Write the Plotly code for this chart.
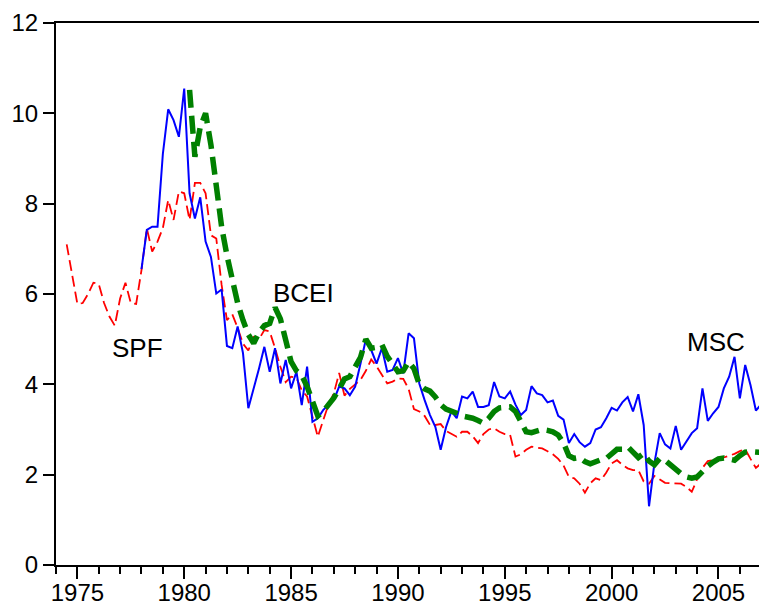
import plotly.graph_objects as go

# ---- data (quarterly) ----
spf_start = "1974Q3"
spf_values = [
    7.1, 6.45,
    5.78, 5.8, 6.0, 6.25,
    6.22, 5.8, 5.5, 5.3,
    5.9, 6.25, 5.8, 5.78,
    6.53, 7.45, 6.94, 7.16,
    7.46, 8.08, 7.64, 8.27,
    8.23, 7.64, 8.46, 8.46,
    8.23, 7.3, 7.23, 6.2,
    5.42, 5.55, 5.25, 4.9,
    4.75, 5.05, 5.0, 5.2,
    5.17, 4.8, 4.39, 4.05,
    4.17, 4.14, 3.87, 3.73,
    3.3, 2.84, 3.2, 3.55,
    3.8, 4.25, 3.75, 3.9,
    4.0, 4.1, 4.3, 4.55,
    4.4, 4.2, 4.02, 4.06,
    4.13, 4.12, 3.9, 3.45,
    3.4, 3.3, 3.1, 3.1,
    3.12, 2.97, 2.9, 2.84,
    2.95, 2.95, 2.85, 2.7,
    2.9, 3.0, 3.03, 2.95,
    2.9, 2.88, 2.4, 2.45,
    2.55, 2.62, 2.6, 2.58,
    2.52, 2.45, 2.35, 2.2,
    1.95, 1.92, 1.8, 1.6,
    1.81, 1.92, 1.88, 2.05,
    2.25, 2.32, 2.22, 2.14,
    2.1, 2.1, 1.85, 1.8,
    1.97, 1.9, 1.82, 1.81,
    1.81, 1.8, 1.73, 1.62,
    1.9, 2.15, 2.3, 2.32,
    2.35, 2.38, 2.42, 2.46,
    2.52, 2.56, 2.35, 2.15,
    2.25, 2.21,
]

msc_start = "1978Q1"
msc_values = [
    6.55, 7.42, 7.49, 7.49,
    9.1, 10.09, 9.85, 9.48,
    10.55, 8.23, 7.67, 8.14,
    7.16, 6.82, 6.01, 6.1,
    4.85, 4.8, 5.28, 4.69,
    3.47, 3.9, 4.35, 4.83,
    4.28, 4.8, 4.02, 4.54,
    3.91, 4.28, 3.54, 4.39,
    3.17, 3.25, 3.43, 3.55,
    3.65, 3.95, 3.91, 3.76,
    3.95, 4.46, 5.0, 4.76,
    4.46, 4.8, 4.28, 4.32,
    4.58, 4.24, 5.13, 5.02,
    4.02, 3.65, 3.32, 3.06,
    2.55, 3.05, 3.4, 3.25,
    3.73, 3.69, 3.84, 3.5,
    3.5, 3.54, 4.05, 3.73,
    3.69, 3.84, 3.55, 3.32,
    3.43, 3.96, 3.8, 3.76,
    3.6, 3.64, 3.3, 3.22,
    2.7, 2.9, 2.72, 2.62,
    2.7, 3.0, 3.05, 3.25,
    3.48, 3.42, 3.6, 3.72,
    3.4, 3.78, 3.1, 1.3,
    2.25, 2.92, 2.67, 2.58,
    3.08, 2.55, 2.73, 2.92,
    3.03, 3.91, 3.19, 3.36,
    3.5, 3.91, 4.17, 4.61,
    3.69, 4.43, 3.98, 3.42,
    3.56,
]

bcei_start = "1980Q2"
bcei_values = [
    10.52, 9.04, 9.7,
    10.0, 9.3, 8.3, 7.49,
    6.85, 6.25, 5.8, 5.42,
    5.1, 4.91, 5.15, 5.3,
    5.35, 5.7, 5.45, 4.98,
    4.5, 4.3, 4.2, 3.95,
    3.65, 3.3, 3.4, 3.55,
    3.7, 3.9, 4.12, 4.17,
    4.4, 4.6, 5.0, 4.8,
    4.82, 4.88, 4.62, 4.43,
    4.28, 4.3, 4.5, 4.35,
    4.0, 3.9, 3.85, 3.72,
    3.55, 3.45, 3.42, 3.36,
    3.3, 3.28, 3.25, 3.2,
    3.14, 3.25, 3.4, 3.48,
    3.5, 3.5, 3.4, 3.2,
    2.95, 2.93, 2.97, 3.0,
    2.98, 2.95, 2.88, 2.7,
    2.42, 2.36, 2.38, 2.29,
    2.24, 2.3, 2.33, 2.36,
    2.48, 2.56, 2.56, 2.62,
    2.5, 2.38, 2.47, 2.3,
    2.22, 2.36, 2.32, 2.21,
    2.12, 2.02, 1.95, 1.92,
    1.95, 2.08, 2.19, 2.28,
    2.35, 2.37, 2.36, 2.32,
    2.42, 2.5, 2.51, 2.51,
    2.49, 2.38,
]

year_ticks = [1975, 1980, 1985, 1990, 1995, 2000, 2005]
value_ticks = [0, 2, 4, 6, 8, 10, 12]


def quarter_axis(start, n):
    y, q = start.split("Q")
    t0 = int(y) + (int(q) - 1) / 4.0
    return [t0 + 0.25 * i for i in range(n)]


FONT = "Liberation Sans, Arial, sans-serif"

fig = go.Figure()
fig.add_trace(go.Scatter(
    x=quarter_axis(spf_start, len(spf_values)), y=spf_values, mode="lines",
    line=dict(color="#ff0000", width=1.8, dash="11px,5px"), name="SPF"))
fig.add_trace(go.Scatter(
    x=quarter_axis(msc_start, len(msc_values)), y=msc_values, mode="lines",
    line=dict(color="#0000ff", width=2), name="MSC"))
fig.add_trace(go.Scatter(
    x=quarter_axis(bcei_start, len(bcei_values)), y=bcei_values, mode="lines",
    line=dict(color="#008000", width=5.5, dash="18px,8px"), name="BCEI"))

for txt, ax, ay in [("SPF", 1977.8, 4.8), ("BCEI", 1985.58, 6.03), ("MSC", 2004.87, 4.94)]:
    fig.add_annotation(x=ax, y=ay, text=txt, showarrow=False,
                       xanchor="center", yanchor="middle",
                       font=dict(family=FONT, size=26, color="black"))

# the page body adds an 8px offset, margins compensate for it
fig.update_layout(
    width=767, height=610,
    margin=dict(l=48, r=8, t=15, b=53, pad=0, autoexpand=False),
    paper_bgcolor="white", plot_bgcolor="white",
    showlegend=False,
    font=dict(family=FONT, size=24, color="black"),
    xaxis=dict(
        range=[1974, 2007.27], tickmode="array", tickvals=year_ticks,
        ticktext=[str(v) for v in year_ticks], automargin=False,
        showgrid=False, zeroline=False,
        showline=True, linecolor="black", linewidth=2, mirror=True,
        ticks="outside", ticklen=12, tickwidth=1.5, tickcolor="black",
        ticklabelstandoff=-7,
        minor=dict(tickmode="linear", tick0=1974, dtick=1, ticks="outside",
                   ticklen=7, tickwidth=1.5, tickcolor="black", showgrid=False),
        tickfont=dict(family=FONT, size=24, color="black"),
    ),
    yaxis=dict(
        range=[0, 12], tickmode="array", tickvals=value_ticks,
        ticktext=[str(v) for v in value_ticks], automargin=False,
        showgrid=False, zeroline=False,
        showline=True, linecolor="black", linewidth=2,
        ticks="outside", ticklen=11, tickwidth=1.5, tickcolor="black",
        tickfont=dict(family=FONT, size=24, color="black"),
    ),
)

fig.write_html("out.html")
